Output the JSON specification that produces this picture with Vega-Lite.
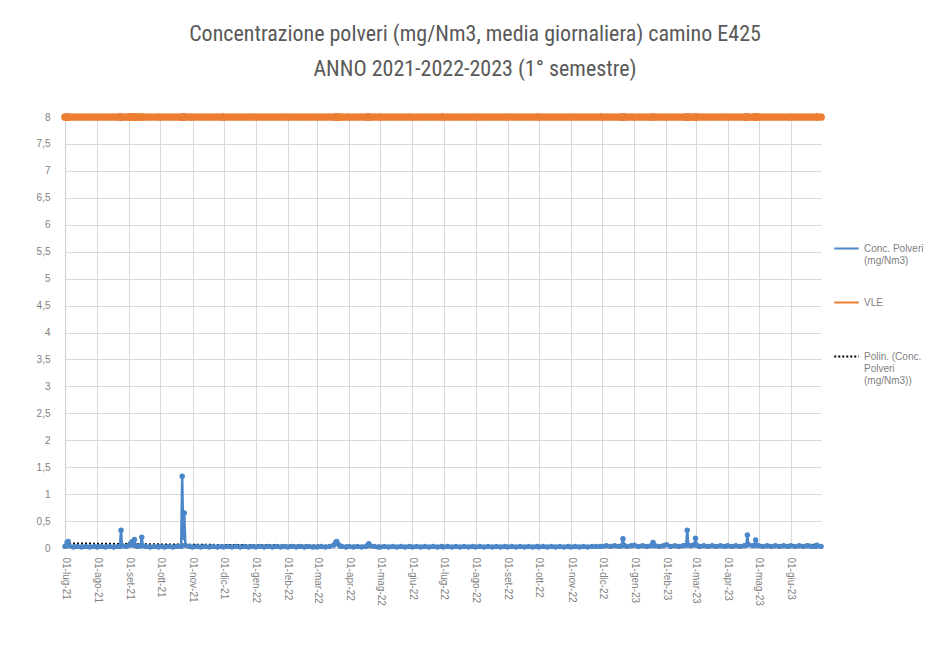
{
  "$schema": "https://vega.github.io/schema/vega-lite/v6.json",
  "width": 756,
  "height": 431,
  "autosize": {"type": "none"},
  "padding": {"left": 65, "top": 117, "right": 123, "bottom": 100},
  "background": "white",
  "title": {
    "text": ["Concentrazione polveri (mg/Nm3, media giornaliera) camino E425", "ANNO 2021-2022-2023 (1° semestre)"],
    "font": "Liberation Sans Narrow, Roboto Condensed, Liberation Sans",
    "fontSize": 22,
    "fontWeight": "normal",
    "color": "#595959",
    "anchor": "middle",
    "frame": "group",
    "dx": 32,
    "offset": 30,
    "lineHeight": 35
  },
  "config": {
    "view": {"stroke": null},
    "font": "Liberation Sans Narrow, Liberation Sans",
    "axisY": {
      "title": null,
      "labelFontSize": 10,
      "labelColor": "#7f7f7f",
      "labelPadding": 15,
      "ticks": false,
      "grid": true,
      "gridColor": "#d9d9d9",
      "domainColor": "#d0d0d0"
    }
  },
  "data": {
    "values": [
      {"d": "2021-07-01", "c": 0.03, "v": 8}, {"d": "2021-07-03", "c": 0.1, "v": 8}, {"d": "2021-07-04", "c": 0.12, "v": 8}, {"d": "2021-07-05", "c": 0.04, "v": 8},
      {"d": "2021-07-09", "c": 0.02, "v": 8}, {"d": "2021-07-13", "c": 0.03, "v": 8}, {"d": "2021-07-17", "c": 0.02, "v": 8}, {"d": "2021-07-21", "c": 0.03, "v": 8},
      {"d": "2021-07-25", "c": 0.02, "v": 8}, {"d": "2021-07-29", "c": 0.03, "v": 8},
      {"d": "2021-08-01", "c": 0.02, "v": 8}, {"d": "2021-08-05", "c": 0.03, "v": 8}, {"d": "2021-08-09", "c": 0.02, "v": 8}, {"d": "2021-08-13", "c": 0.03, "v": 8},
      {"d": "2021-08-17", "c": 0.02, "v": 8}, {"d": "2021-08-21", "c": 0.03, "v": 8}, {"d": "2021-08-23", "c": 0.03, "v": 8}, {"d": "2021-08-24", "c": 0.33, "v": 8},
      {"d": "2021-08-25", "c": 0.04, "v": 8}, {"d": "2021-08-29", "c": 0.03, "v": 8},
      {"d": "2021-09-01", "c": 0.05, "v": 8}, {"d": "2021-09-02", "c": 0.08, "v": 8}, {"d": "2021-09-04", "c": 0.12, "v": 8}, {"d": "2021-09-05", "c": 0.05, "v": 8},
      {"d": "2021-09-06", "c": 0.16, "v": 8}, {"d": "2021-09-07", "c": 0.04, "v": 8}, {"d": "2021-09-09", "c": 0.03, "v": 8}, {"d": "2021-09-12", "c": 0.04, "v": 8},
      {"d": "2021-09-13", "c": 0.2, "v": 8}, {"d": "2021-09-14", "c": 0.04, "v": 8}, {"d": "2021-09-17", "c": 0.03, "v": 8}, {"d": "2021-09-21", "c": 0.02, "v": 8},
      {"d": "2021-09-25", "c": 0.03, "v": 8}, {"d": "2021-09-29", "c": 0.02, "v": 8},
      {"d": "2021-10-01", "c": 0.03, "v": 8}, {"d": "2021-10-05", "c": 0.02, "v": 8}, {"d": "2021-10-09", "c": 0.03, "v": 8}, {"d": "2021-10-13", "c": 0.02, "v": 8},
      {"d": "2021-10-17", "c": 0.03, "v": 8}, {"d": "2021-10-21", "c": 0.03, "v": 8}, {"d": "2021-10-22", "c": 1.33, "v": 8}, {"d": "2021-10-23", "c": 0.2, "v": 8},
      {"d": "2021-10-24", "c": 0.65, "v": 8}, {"d": "2021-10-25", "c": 0.05, "v": 8}, {"d": "2021-10-29", "c": 0.03, "v": 8},
      {"d": "2021-11-01", "c": 0.02, "v": 8}, {"d": "2021-11-05", "c": 0.03, "v": 8}, {"d": "2021-11-09", "c": 0.02, "v": 8}, {"d": "2021-11-13", "c": 0.03, "v": 8},
      {"d": "2021-11-17", "c": 0.02, "v": 8}, {"d": "2021-11-21", "c": 0.03, "v": 8}, {"d": "2021-11-25", "c": 0.02, "v": 8}, {"d": "2021-11-29", "c": 0.03, "v": 8},
      {"d": "2021-12-01", "c": 0.02, "v": 8}, {"d": "2021-12-05", "c": 0.03, "v": 8}, {"d": "2021-12-09", "c": 0.02, "v": 8}, {"d": "2021-12-13", "c": 0.03, "v": 8},
      {"d": "2021-12-17", "c": 0.02, "v": 8}, {"d": "2021-12-21", "c": 0.03, "v": 8}, {"d": "2021-12-25", "c": 0.02, "v": 8}, {"d": "2021-12-29", "c": 0.03, "v": 8},
      {"d": "2022-01-01", "c": 0.02, "v": 8}, {"d": "2022-01-05", "c": 0.03, "v": 8}, {"d": "2022-01-09", "c": 0.02, "v": 8}, {"d": "2022-01-13", "c": 0.03, "v": 8},
      {"d": "2022-01-17", "c": 0.02, "v": 8}, {"d": "2022-01-21", "c": 0.03, "v": 8}, {"d": "2022-01-25", "c": 0.02, "v": 8}, {"d": "2022-01-29", "c": 0.03, "v": 8},
      {"d": "2022-02-01", "c": 0.02, "v": 8}, {"d": "2022-02-05", "c": 0.03, "v": 8}, {"d": "2022-02-09", "c": 0.02, "v": 8}, {"d": "2022-02-13", "c": 0.03, "v": 8},
      {"d": "2022-02-17", "c": 0.02, "v": 8}, {"d": "2022-02-21", "c": 0.03, "v": 8}, {"d": "2022-02-25", "c": 0.02, "v": 8},
      {"d": "2022-03-01", "c": 0.02, "v": 8}, {"d": "2022-03-05", "c": 0.03, "v": 8}, {"d": "2022-03-09", "c": 0.02, "v": 8}, {"d": "2022-03-13", "c": 0.03, "v": 8},
      {"d": "2022-03-17", "c": 0.05, "v": 8}, {"d": "2022-03-19", "c": 0.1, "v": 8}, {"d": "2022-03-20", "c": 0.12, "v": 8}, {"d": "2022-03-21", "c": 0.08, "v": 8},
      {"d": "2022-03-23", "c": 0.04, "v": 8}, {"d": "2022-03-25", "c": 0.03, "v": 8}, {"d": "2022-03-29", "c": 0.02, "v": 8},
      {"d": "2022-04-01", "c": 0.03, "v": 8}, {"d": "2022-04-05", "c": 0.02, "v": 8}, {"d": "2022-04-09", "c": 0.03, "v": 8}, {"d": "2022-04-13", "c": 0.02, "v": 8},
      {"d": "2022-04-17", "c": 0.03, "v": 8}, {"d": "2022-04-19", "c": 0.05, "v": 8}, {"d": "2022-04-20", "c": 0.08, "v": 8}, {"d": "2022-04-21", "c": 0.04, "v": 8},
      {"d": "2022-04-25", "c": 0.03, "v": 8}, {"d": "2022-04-29", "c": 0.02, "v": 8},
      {"d": "2022-05-01", "c": 0.02, "v": 8}, {"d": "2022-05-05", "c": 0.03, "v": 8}, {"d": "2022-05-09", "c": 0.02, "v": 8}, {"d": "2022-05-13", "c": 0.03, "v": 8},
      {"d": "2022-05-17", "c": 0.02, "v": 8}, {"d": "2022-05-21", "c": 0.03, "v": 8}, {"d": "2022-05-25", "c": 0.02, "v": 8}, {"d": "2022-05-29", "c": 0.03, "v": 8},
      {"d": "2022-06-01", "c": 0.02, "v": 8}, {"d": "2022-06-05", "c": 0.03, "v": 8}, {"d": "2022-06-09", "c": 0.02, "v": 8}, {"d": "2022-06-13", "c": 0.03, "v": 8},
      {"d": "2022-06-17", "c": 0.02, "v": 8}, {"d": "2022-06-21", "c": 0.03, "v": 8}, {"d": "2022-06-25", "c": 0.02, "v": 8}, {"d": "2022-06-29", "c": 0.03, "v": 8},
      {"d": "2022-07-01", "c": 0.02, "v": 8}, {"d": "2022-07-05", "c": 0.03, "v": 8}, {"d": "2022-07-09", "c": 0.02, "v": 8}, {"d": "2022-07-13", "c": 0.03, "v": 8},
      {"d": "2022-07-17", "c": 0.02, "v": 8}, {"d": "2022-07-21", "c": 0.03, "v": 8}, {"d": "2022-07-25", "c": 0.02, "v": 8}, {"d": "2022-07-29", "c": 0.03, "v": 8},
      {"d": "2022-08-01", "c": 0.02, "v": 8}, {"d": "2022-08-05", "c": 0.03, "v": 8}, {"d": "2022-08-09", "c": 0.02, "v": 8}, {"d": "2022-08-13", "c": 0.03, "v": 8},
      {"d": "2022-08-17", "c": 0.02, "v": 8}, {"d": "2022-08-21", "c": 0.03, "v": 8}, {"d": "2022-08-25", "c": 0.02, "v": 8}, {"d": "2022-08-29", "c": 0.03, "v": 8},
      {"d": "2022-09-01", "c": 0.02, "v": 8}, {"d": "2022-09-05", "c": 0.03, "v": 8}, {"d": "2022-09-09", "c": 0.02, "v": 8}, {"d": "2022-09-13", "c": 0.03, "v": 8},
      {"d": "2022-09-17", "c": 0.02, "v": 8}, {"d": "2022-09-21", "c": 0.03, "v": 8}, {"d": "2022-09-25", "c": 0.02, "v": 8}, {"d": "2022-09-29", "c": 0.03, "v": 8},
      {"d": "2022-10-01", "c": 0.02, "v": 8}, {"d": "2022-10-05", "c": 0.03, "v": 8}, {"d": "2022-10-09", "c": 0.02, "v": 8}, {"d": "2022-10-13", "c": 0.03, "v": 8},
      {"d": "2022-10-17", "c": 0.02, "v": 8}, {"d": "2022-10-21", "c": 0.03, "v": 8}, {"d": "2022-10-25", "c": 0.02, "v": 8}, {"d": "2022-10-29", "c": 0.03, "v": 8},
      {"d": "2022-11-01", "c": 0.02, "v": 8}, {"d": "2022-11-05", "c": 0.03, "v": 8}, {"d": "2022-11-09", "c": 0.02, "v": 8}, {"d": "2022-11-13", "c": 0.03, "v": 8},
      {"d": "2022-11-17", "c": 0.02, "v": 8}, {"d": "2022-11-21", "c": 0.03, "v": 8}, {"d": "2022-11-25", "c": 0.03, "v": 8}, {"d": "2022-11-29", "c": 0.03, "v": 8},
      {"d": "2022-12-01", "c": 0.03, "v": 8}, {"d": "2022-12-05", "c": 0.04, "v": 8}, {"d": "2022-12-09", "c": 0.03, "v": 8}, {"d": "2022-12-13", "c": 0.04, "v": 8},
      {"d": "2022-12-17", "c": 0.03, "v": 8}, {"d": "2022-12-20", "c": 0.04, "v": 8}, {"d": "2022-12-21", "c": 0.17, "v": 8}, {"d": "2022-12-22", "c": 0.05, "v": 8},
      {"d": "2022-12-25", "c": 0.03, "v": 8}, {"d": "2022-12-29", "c": 0.04, "v": 8},
      {"d": "2023-01-01", "c": 0.05, "v": 8}, {"d": "2023-01-05", "c": 0.03, "v": 8}, {"d": "2023-01-09", "c": 0.04, "v": 8}, {"d": "2023-01-13", "c": 0.03, "v": 8},
      {"d": "2023-01-17", "c": 0.04, "v": 8}, {"d": "2023-01-19", "c": 0.1, "v": 8}, {"d": "2023-01-21", "c": 0.04, "v": 8}, {"d": "2023-01-25", "c": 0.03, "v": 8},
      {"d": "2023-01-29", "c": 0.04, "v": 8},
      {"d": "2023-02-01", "c": 0.06, "v": 8}, {"d": "2023-02-05", "c": 0.03, "v": 8}, {"d": "2023-02-09", "c": 0.04, "v": 8}, {"d": "2023-02-13", "c": 0.03, "v": 8},
      {"d": "2023-02-17", "c": 0.04, "v": 8}, {"d": "2023-02-20", "c": 0.05, "v": 8}, {"d": "2023-02-21", "c": 0.33, "v": 8}, {"d": "2023-02-22", "c": 0.05, "v": 8},
      {"d": "2023-02-25", "c": 0.04, "v": 8}, {"d": "2023-02-28", "c": 0.06, "v": 8},
      {"d": "2023-03-01", "c": 0.18, "v": 8}, {"d": "2023-03-02", "c": 0.05, "v": 8}, {"d": "2023-03-05", "c": 0.03, "v": 8}, {"d": "2023-03-09", "c": 0.04, "v": 8},
      {"d": "2023-03-13", "c": 0.03, "v": 8}, {"d": "2023-03-17", "c": 0.04, "v": 8}, {"d": "2023-03-21", "c": 0.03, "v": 8}, {"d": "2023-03-25", "c": 0.04, "v": 8},
      {"d": "2023-03-29", "c": 0.03, "v": 8},
      {"d": "2023-04-01", "c": 0.04, "v": 8}, {"d": "2023-04-05", "c": 0.03, "v": 8}, {"d": "2023-04-09", "c": 0.04, "v": 8}, {"d": "2023-04-13", "c": 0.03, "v": 8},
      {"d": "2023-04-17", "c": 0.04, "v": 8}, {"d": "2023-04-19", "c": 0.05, "v": 8}, {"d": "2023-04-20", "c": 0.24, "v": 8}, {"d": "2023-04-21", "c": 0.06, "v": 8},
      {"d": "2023-04-25", "c": 0.04, "v": 8}, {"d": "2023-04-27", "c": 0.05, "v": 8}, {"d": "2023-04-28", "c": 0.15, "v": 8}, {"d": "2023-04-29", "c": 0.05, "v": 8},
      {"d": "2023-05-01", "c": 0.04, "v": 8}, {"d": "2023-05-05", "c": 0.03, "v": 8}, {"d": "2023-05-09", "c": 0.04, "v": 8}, {"d": "2023-05-13", "c": 0.03, "v": 8},
      {"d": "2023-05-17", "c": 0.04, "v": 8}, {"d": "2023-05-21", "c": 0.03, "v": 8}, {"d": "2023-05-25", "c": 0.04, "v": 8}, {"d": "2023-05-29", "c": 0.03, "v": 8},
      {"d": "2023-06-01", "c": 0.04, "v": 8}, {"d": "2023-06-05", "c": 0.03, "v": 8}, {"d": "2023-06-09", "c": 0.04, "v": 8}, {"d": "2023-06-13", "c": 0.03, "v": 8},
      {"d": "2023-06-17", "c": 0.04, "v": 8}, {"d": "2023-06-21", "c": 0.03, "v": 8}, {"d": "2023-06-25", "c": 0.03, "v": 8}, {"d": "2023-06-26", "c": 0.05, "v": 8},
      {"d": "2023-06-30", "c": 0.03, "v": 8}
    ]
  },
  "encoding": {
    "x": {
      "field": "d",
      "type": "temporal",
      "scale": {
        "type": "utc",
        "domain": [{"year": 2021, "month": 7, "date": 1, "utc": true}, {"year": 2023, "month": 6, "date": 30, "utc": true}]
      },
      "axis": {
        "title": null,
        "tickCount": {"interval": "month", "step": 1},
        "labelExpr": "'01-' + ['gen','feb','mar','apr','mag','giu','lug','ago','set','ott','nov','dic'][utcmonth(datum.value)] + '-' + utcFormat(datum.value, '%y')",
        "labelAngle": 90,
        "labelAlign": "left",
        "labelBaseline": "middle",
        "labelFontSize": 10,
        "labelColor": "#7f7f7f",
        "labelPadding": 9,
        "labelFlush": false,
        "labelOverlap": false,
        "ticks": false,
        "grid": true,
        "gridColor": "#d9d9d9",
        "domainColor": "#d0d0d0"
      }
    }
  },
  "layer": [
    {
      "transform": [{"regression": "c", "on": "d", "method": "poly", "order": 2}],
      "mark": {"type": "line", "strokeWidth": 2},
      "encoding": {
        "y": {
          "field": "c",
          "type": "quantitative",
          "scale": {"domain": [0, 8]},
          "axis": {
            "values": [0, 0.5, 1, 1.5, 2, 2.5, 3, 3.5, 4, 4.5, 5, 5.5, 6, 6.5, 7, 7.5, 8],
            "labelExpr": "replace(format(datum.value, '~g'), '.', ',')"
          }
        },
        "color": {
          "datum": "Polin. (Conc. Polveri (mg/Nm3))",
          "scale": {
            "domain": ["Conc. Polveri (mg/Nm3)", "VLE", "Polin. (Conc. Polveri (mg/Nm3))"],
            "range": ["#4A86C8", "#ED7D31", "#000000"]
          },
          "legend": {
            "title": null,
            "orient": "none",
            "legendX": 768,
            "legendY": 118,
            "symbolType": "stroke",
            "symbolSize": 600,
            "symbolStrokeWidth": 2,
            "labelFontSize": 10,
            "labelColor": "#7f7f7f",
            "rowPadding": 23,
            "labelExpr": "datum.label == 'VLE' ? ['VLE', ' '] : datum.label == 'Conc. Polveri (mg/Nm3)' ? ['Conc. Polveri', '(mg/Nm3)'] : ['Polin. (Conc.', 'Polveri', '(mg/Nm3))']"
          }
        },
        "strokeDash": {
          "datum": "Polin. (Conc. Polveri (mg/Nm3))",
          "scale": {
            "domain": ["Conc. Polveri (mg/Nm3)", "VLE", "Polin. (Conc. Polveri (mg/Nm3))"],
            "range": [[1, 0], [1, 0], [2, 2]]
          }
        }
      }
    },
    {
      "mark": {"type": "line", "strokeWidth": 2.5, "point": {"filled": true, "size": 30}},
      "encoding": {
        "y": {
          "field": "c",
          "type": "quantitative",
          "scale": {"domain": [0, 8]},
          "axis": {
            "values": [0, 0.5, 1, 1.5, 2, 2.5, 3, 3.5, 4, 4.5, 5, 5.5, 6, 6.5, 7, 7.5, 8],
            "labelExpr": "replace(format(datum.value, '~g'), '.', ',')"
          }
        },
        "color": {"datum": "Conc. Polveri (mg/Nm3)"},
        "strokeDash": {"datum": "Conc. Polveri (mg/Nm3)"}
      }
    },
    {
      "mark": {"type": "line", "strokeWidth": 3, "point": {"filled": true, "size": 60}},
      "encoding": {
        "y": {
          "field": "v",
          "type": "quantitative",
          "scale": {"domain": [0, 8]},
          "axis": {
            "values": [0, 0.5, 1, 1.5, 2, 2.5, 3, 3.5, 4, 4.5, 5, 5.5, 6, 6.5, 7, 7.5, 8],
            "labelExpr": "replace(format(datum.value, '~g'), '.', ',')"
          }
        },
        "color": {"datum": "VLE"},
        "strokeDash": {"datum": "VLE"}
      }
    }
  ]
}
